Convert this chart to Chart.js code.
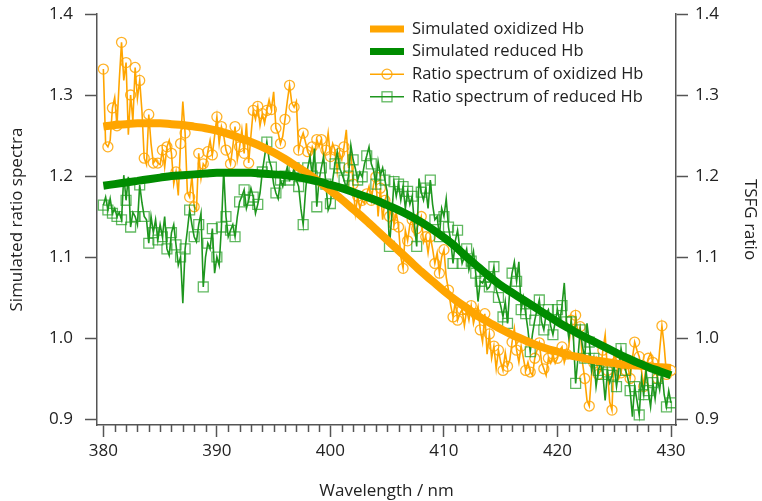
<!DOCTYPE html>
<html>
<head>
<meta charset="utf-8">
<script src="https://cdn.jsdelivr.net/npm/chart.js@4.4.0/dist/chart.umd.min.js"></script>
<style>
    body { margin: 0; background: #fff; }
    #wrap { width: 762px; height: 501px; }
</style>
</head>
<body>
<div id="wrap"><canvas id="ratio_canvas" width="762" height="501"></canvas></div>
<script>
//GLOBALS
var wlStart = 380, wlStep = 0.2; //sampling grid of the measured spectra
var simWavelengths = [380, 381, 382, 383, 384, 385, 386, 387, 388, 389, 390, 391, 392, 393, 394, 395, 396, 397, 398, 399,
    400, 401, 402, 403, 404, 405, 406, 407, 408, 409, 410, 411, 412, 413, 414, 415, 416, 417, 418, 419,
    420, 421, 422, 423, 424, 425, 426, 427, 428, 429, 430];

var simOxidized = [1.261, 1.263, 1.264, 1.265, 1.265, 1.265, 1.264, 1.263, 1.261, 1.259,
    1.256, 1.252, 1.247, 1.242, 1.236, 1.229, 1.221, 1.212, 1.203, 1.193,
    1.182, 1.171, 1.159, 1.147, 1.134, 1.121, 1.108, 1.095, 1.082, 1.070,
    1.058, 1.047, 1.037, 1.027, 1.019, 1.011, 1.004, 0.998, 0.992, 0.987,
    0.983, 0.979, 0.976, 0.973, 0.971, 0.969, 0.967, 0.966, 0.965, 0.964, 0.963];

var simReduced = [1.188, 1.190, 1.192, 1.194, 1.196, 1.198, 1.200, 1.201, 1.202, 1.203,
    1.204, 1.204, 1.204, 1.204, 1.203, 1.202, 1.201, 1.199, 1.196, 1.193,
    1.189, 1.185, 1.180, 1.175, 1.170, 1.164, 1.158, 1.151, 1.143, 1.134,
    1.124, 1.113, 1.100, 1.088, 1.076, 1.065, 1.056, 1.047, 1.038, 1.029,
    1.020, 1.012, 1.004, 0.997, 0.990, 0.983, 0.976, 0.970, 0.964, 0.959, 0.954];

//one row per nm (x.0 .. x.8)
var ratioOxidized = [
    1.332, 1.240, 1.236, 1.244, 1.284,
    1.297, 1.262, 1.318, 1.365, 1.318,
    1.340, 1.251, 1.300, 1.268, 1.334,
    1.296, 1.318, 1.280, 1.222, 1.214,
    1.276, 1.240, 1.216, 1.220, 1.216,
    1.214, 1.232, 1.211, 1.236, 1.244,
    1.228, 1.190, 1.205, 1.176, 1.240,
    1.292, 1.253, 1.180, 1.174, 1.200,
    1.162, 1.158, 1.228, 1.197, 1.215,
    1.211, 1.230, 1.244, 1.226, 1.250,
    1.273, 1.240, 1.261, 1.250, 1.232,
    1.224, 1.215, 1.236, 1.261, 1.220,
    1.236, 1.257, 1.228, 1.265, 1.216,
    1.250, 1.281, 1.270, 1.286, 1.262,
    1.277, 1.265, 1.281, 1.294, 1.282,
    1.304, 1.259, 1.253, 1.240, 1.249,
    1.270, 1.292, 1.312, 1.290, 1.285,
    1.292, 1.232, 1.245, 1.253, 1.242,
    1.230, 1.224, 1.236, 1.228, 1.245,
    1.236, 1.245, 1.224, 1.232, 1.253,
    1.224, 1.240, 1.232, 1.205, 1.228,
    1.220, 1.236, 1.257, 1.210, 1.232,
    1.190, 1.154, 1.175, 1.160, 1.170,
    1.166, 1.178, 1.187, 1.170, 1.190,
    1.199, 1.150, 1.185, 1.146, 1.170,
    1.179, 1.150, 1.162, 1.140, 1.155,
    1.137, 1.100, 1.086, 1.133, 1.120,
    1.140, 1.146, 1.128, 1.135, 1.142,
    1.150, 1.118, 1.125, 1.105, 1.125,
    1.110, 1.092, 1.105, 1.080, 1.100,
    1.109, 1.075, 1.059, 1.040, 1.026,
    1.045, 1.022, 1.030, 1.035, 1.015,
    1.035, 1.022, 1.040, 1.018, 1.030,
    1.039, 1.010, 0.995, 1.030, 0.980,
    1.005, 0.975, 0.990, 0.962, 0.985,
    0.970, 0.960, 0.982, 0.965, 0.973,
    0.995, 1.012, 0.985, 0.970, 0.990,
    0.975, 0.960, 0.970, 0.958, 0.954,
    0.975, 0.985, 0.994, 0.970, 0.962,
    0.954, 0.975, 0.969, 0.980, 0.969,
    0.975, 0.985, 0.989, 0.970, 0.980,
    0.989, 1.022, 1.000, 1.028, 1.005,
    1.014, 0.970, 0.950, 0.923, 0.916,
    0.955, 0.969, 0.975, 0.955, 0.960,
    0.985, 1.004, 0.960, 0.921, 0.911,
    0.987, 0.970, 0.950, 0.957, 0.975,
    0.960, 0.965, 0.950, 0.975, 0.995,
    0.985, 0.977, 0.960, 0.940, 0.965,
    0.975, 0.981, 0.970, 0.965, 0.950,
    0.985, 1.015, 0.990, 0.955, 0.965,
    0.960];

var ratioReduced = [
    1.164, 1.174, 1.158, 1.172, 1.154,
    1.160, 1.150, 1.155, 1.146, 1.201,
    1.170, 1.199, 1.137, 1.155, 1.150,
    1.140, 1.189, 1.167, 1.150, 1.146,
    1.117, 1.150, 1.130, 1.146, 1.121,
    1.140, 1.125, 1.150, 1.110, 1.102,
    1.130, 1.140, 1.115, 1.090, 1.100,
    1.043, 1.110, 1.133, 1.158, 1.140,
    1.125, 1.119, 1.140, 1.154, 1.063,
    1.100, 1.117, 1.110, 1.135, 1.080,
    1.100, 1.090, 1.137, 1.207, 1.150,
    1.125, 1.133, 1.140, 1.125, 1.150,
    1.168, 1.175, 1.183, 1.160, 1.170,
    1.185, 1.174, 1.154, 1.165, 1.179,
    1.205, 1.224, 1.242, 1.220, 1.211,
    1.190, 1.179, 1.172, 1.195, 1.187,
    1.200, 1.211, 1.195, 1.199, 1.210,
    1.195, 1.187, 1.160, 1.140, 1.180,
    1.210, 1.224, 1.200, 1.234, 1.162,
    1.195, 1.210, 1.224, 1.190, 1.158,
    1.166, 1.195, 1.215, 1.230, 1.210,
    1.203, 1.195, 1.185, 1.200, 1.238,
    1.220, 1.209, 1.195, 1.205, 1.199,
    1.215, 1.225, 1.236, 1.215, 1.207,
    1.190, 1.218, 1.201, 1.210, 1.195,
    1.180, 1.113, 1.150, 1.193, 1.175,
    1.190, 1.170, 1.187, 1.160, 1.181,
    1.165, 1.175, 1.140, 1.113, 1.197,
    1.180, 1.170, 1.185, 1.160, 1.195,
    1.165, 1.146, 1.150, 1.125, 1.160,
    1.150, 1.172, 1.137, 1.120, 1.092,
    1.120, 1.133, 1.110, 1.092, 1.100,
    1.110, 1.084, 1.095, 1.107, 1.080,
    1.045, 1.070, 1.068, 1.075, 1.060,
    1.063, 1.070, 1.088, 1.060, 1.050,
    1.040, 1.026, 1.045, 1.018, 1.060,
    1.080, 1.094, 1.070, 1.094, 1.035,
    1.050, 1.030, 1.010, 0.983, 1.005,
    1.022, 1.035, 1.047, 1.020, 1.010,
    1.030, 1.035, 1.015, 1.004, 1.020,
    1.035, 1.020, 1.040, 1.068, 1.020,
    1.000, 1.020, 1.002, 0.944, 0.975,
    1.010, 0.990, 0.975, 1.018, 0.995,
    0.960, 0.975, 0.940, 0.960, 0.970,
    0.955, 0.923, 0.958, 0.945, 0.954,
    0.965, 0.940, 0.960, 0.987, 0.970,
    0.960, 0.950, 0.935, 0.903, 0.940,
    0.923, 0.905, 0.950, 0.930, 0.960,
    0.935, 0.915, 0.945, 0.925, 0.950,
    0.936, 0.960, 0.930, 0.915, 0.935,
    0.920];

var xTickValues = [380, 390, 400, 410, 420, 430];
var yTickValues = [0.9, 1.0, 1.1, 1.2, 1.3, 1.4];
var legendLabels = ["Simulated oxidized Hb", "Simulated reduced Hb",
    "Ratio spectrum of oxidized Hb", "Ratio spectrum of reduced Hb"];

var ORANGE = "#FFA500",
    GREEN = "#008C00",
    GREEN_THIN = "#1E961E",
    CIRCLE = "rgba(255,165,0,0.85)",
    SQUARE = "rgba(30,155,30,0.7)",
    AXIS = "#555555",
    FONT = "'Open Sans', 'DejaVu Sans', sans-serif";

function toPoints(xs, ys) {
    var pts = [];
    for (var i = 0; i < ys.length; i++)
        pts.push({ x: xs[i], y: ys[i] });
    return pts;
}

function measuredPoints(ys) {
    var pts = [];
    for (var i = 0; i < ys.length; i++)
        pts.push({ x: +(wlStart + i * wlStep).toFixed(1), y: ys[i] });
    return pts;
}

function everyOther(r) {
    return function(ctx) { return ctx.dataIndex % 2 == 0 ? r : 0; };
}

//minor ticks on the wavelength axis + legend in the upper middle
var extrasPlugin = {
    id: 'extras',
    afterDraw: function(chart) {
        var ctx = chart.ctx;
        var xs = chart.scales.x;
        var bottom = chart.chartArea.bottom;
        ctx.save();
        ctx.strokeStyle = AXIS;
        ctx.lineWidth = 1.5;
        for (var v = 380; v <= 430; v++) {
            if (v % 10 == 0) continue;
            var px = Math.round(xs.getPixelForValue(v)) + 0.5;
            ctx.beginPath();
            ctx.moveTo(px, bottom);
            ctx.lineTo(px, bottom + 7);
            ctx.stroke();
        }

        //legend
        var lx0 = 370, lx1 = 404, tx = 412, ly = 29, dy = 22.6;
        ctx.font = "16.5px " + FONT;
        ctx.textBaseline = "middle";
        ctx.textAlign = "left";
        for (var i = 0; i < legendLabels.length; i++) {
            var y = ly + i * dy;
            var col = (i % 2 == 0) ? ORANGE : (i == 1 ? GREEN : GREEN_THIN);
            ctx.strokeStyle = col;
            ctx.lineWidth = i < 2 ? 7 : 1.5;
            ctx.beginPath();
            ctx.moveTo(lx0, y);
            ctx.lineTo(lx1, y);
            ctx.stroke();
            var cx = (lx0 + lx1) / 2;
            if (i == 2) {
                ctx.strokeStyle = CIRCLE;
                ctx.lineWidth = 1.3;
                ctx.beginPath();
                ctx.arc(cx, y, 5, 0, Math.PI * 2);
                ctx.stroke();
            } else if (i == 3) {
                ctx.strokeStyle = SQUARE;
                ctx.lineWidth = 1.3;
                ctx.strokeRect(cx - 5, y - 5, 10, 10);
            }
            ctx.fillStyle = "#222";
            ctx.fillText(legendLabels[i], tx, y);
        }
        ctx.restore();
    }
};

function yAxis(pos, title, width, tickPad, titlePad) {
    return {
        type: 'linear',
        position: pos,
        min: 0.8926,
        max: 1.4,
        afterBuildTicks: function(scale) {
            scale.ticks = yTickValues.map(function(v) { return { value: v }; });
        },
        afterFit: function(scale) {
            scale.width = width;
            scale.paddingTop = 0;
            scale.paddingBottom = 0;
        },
        border: { display: true, color: AXIS, width: 1.5 },
        grid: { drawOnChartArea: false, drawTicks: true, tickLength: 12, color: AXIS, tickWidth: 1.5 },
        ticks: {
            padding: tickPad,
            color: "#222",
            font: { family: FONT, size: 17 },
            callback: function(v) { return v.toFixed(1); }
        },
        title: {
            display: true,
            text: title,
            color: "#222",
            font: { family: FONT, size: 17 },
            padding: { top: titlePad, bottom: 0 }
        }
    };
}

var ctx = document.getElementById("ratio_canvas").getContext('2d');
var ratioChart = new Chart(ctx, {
    type: 'line',
    data: {
        datasets: [{
            label: legendLabels[0],
            data: toPoints(simWavelengths, simOxidized),
            borderColor: ORANGE,
            borderWidth: 8,
            pointRadius: 0,
            cubicInterpolationMode: 'monotone',
            order: 1
        }, {
            label: legendLabels[1],
            data: toPoints(simWavelengths, simReduced),
            borderColor: GREEN,
            borderWidth: 8,
            pointRadius: 0,
            cubicInterpolationMode: 'monotone',
            order: 0
        }, {
            label: legendLabels[2],
            data: measuredPoints(ratioOxidized),
            borderColor: ORANGE,
            borderWidth: 1.6,
            pointStyle: 'circle',
            pointRadius: everyOther(5),
            pointBorderWidth: 1.3,
            pointBorderColor: CIRCLE,
            pointBackgroundColor: "rgba(0,0,0,0)",
            order: 3
        }, {
            label: legendLabels[3],
            data: measuredPoints(ratioReduced),
            borderColor: GREEN_THIN,
            borderWidth: 1.6,
            pointStyle: 'rect',
            pointRadius: everyOther(7),
            pointBorderWidth: 1.3,
            pointBorderColor: SQUARE,
            pointBackgroundColor: "rgba(0,0,0,0)",
            order: 2
        }]
    },
    options: {
        responsive: false,
        animation: false,
        layout: { padding: { top: 14, left: 0, right: 0, bottom: 0 } },
        plugins: {
            legend: { display: false },
            tooltip: { enabled: false }
        },
        scales: {
            x: {
                type: 'linear',
                position: 'bottom',
                min: 379.44,
                max: 430.44,
                afterBuildTicks: function(scale) {
                    scale.ticks = xTickValues.map(function(v) { return { value: v }; });
                },
                afterFit: function(scale) { scale.height = 76; },
                border: { display: true, color: AXIS, width: 1.5 },
                grid: { drawOnChartArea: false, drawTicks: true, tickLength: 12, color: AXIS, tickWidth: 1.5 },
                ticks: {
                    padding: 4,
                    color: "#222",
                    maxRotation: 0,
                    font: { family: FONT, size: 17 },
                    callback: function(v) { return String(v); }
                },
                title: {
                    display: true,
                    text: "Wavelength / nm",
                    color: "#222",
                    font: { family: FONT, size: 17 },
                    padding: { top: 0, bottom: 0 }
                }
            },
            y: yAxis('left', "Simulated ratio spectra", 97, 12, 7),
            y2: yAxis('right', "TSFG ratio", 86, 7, 2)
        }
    },
    plugins: [extrasPlugin]
});
</script>
</body>
</html>
